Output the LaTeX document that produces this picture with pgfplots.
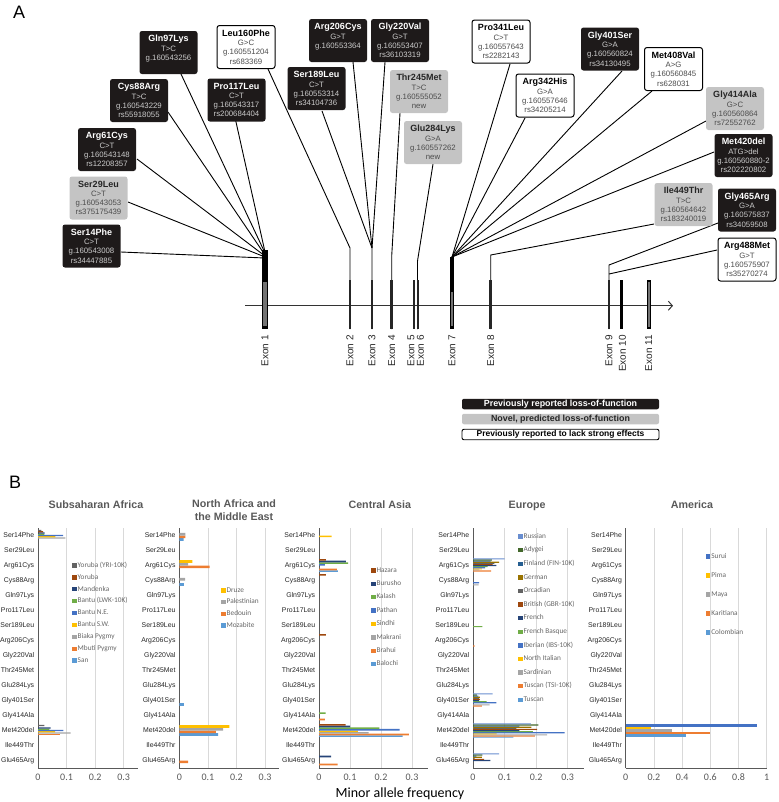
\documentclass[border=0pt]{standalone}
\usepackage{fontspec}
\setmainfont{Liberation Sans}
\newfontfamily\calib{Carlito}
\usepackage{pgfplots}
\pgfplotsset{compat=1.18}
\usetikzlibrary{arrows.meta}

\definecolor{oA}{HTML}{5B9BD5}
\definecolor{oB}{HTML}{ED7D31}
\definecolor{oC}{HTML}{A5A5A5}
\definecolor{oD}{HTML}{FFC000}
\definecolor{oE}{HTML}{4472C4}
\definecolor{oF}{HTML}{70AD47}
\definecolor{oG}{HTML}{264478}
\definecolor{oH}{HTML}{9E480E}
\definecolor{oI}{HTML}{636363}
\definecolor{oJ}{HTML}{997300}
\definecolor{oK}{HTML}{255E91}
\definecolor{oL}{HTML}{43682B}
\definecolor{oM}{HTML}{698ED0}
\definecolor{boxblack}{HTML}{1E1A1A}
\definecolor{boxgrey}{HTML}{C4C4C4}

\tikzset{
  mbox/.style={rounded corners=2.5pt, minimum width=58pt, minimum height=43pt,
    align=center, inner sep=1pt, font=\fontsize{7.8}{9.2}\selectfont},
  lof/.style={mbox, fill=boxblack, text=black!20},
  nov/.style={mbox, fill=boxgrey, text=black!70},
  ben/.style={mbox, fill=white, draw=black, line width=1pt, text=black!70},
}
\newcommand{\lofbox}[3]{\node[lof] at (axis cs:#1) {{\color{white}\fontsize{9}{10.5}\selectfont\bfseries #2}\\#3};}
\newcommand{\novbox}[3]{\node[nov] at (axis cs:#1) {{\color{black!85}\fontsize{9}{10.5}\selectfont\bfseries #2}\\#3};}
\newcommand{\benbox}[3]{\node[ben] at (axis cs:#1) {{\color{black}\fontsize{9}{10.5}\selectfont\bfseries #2}\\#3};}

\pgfplotsset{
  mafax/.style={
    xbar=0pt, scale only axis, height=240pt, anchor=north west,
    xmin=0, ymin=-0.5, ymax=15.5,
    axis x line*=bottom, axis y line*=left,
    axis line style={black!65, line width=0.6pt},
    ytick={0,...,15},
    yticklabels={Glu465Arg,Ile449Thr,Met420del,Gly414Ala,Gly401Ser,Glu284Lys,Thr245Met,Gly220Val,Arg206Cys,Ser189Leu,Pro117Leu,Gln97Lys,Cys88Arg,Arg61Cys,Ser29Leu,Ser14Phe},
    y tick style={draw=none},
    minor ytick={-0.5,0.5,...,15.5},
    minor tick length=3.5pt,
    tick align=center,
    minor y tick style={black!70, line width=0.6pt},
    x tick style={draw=none},
    xmajorgrids, grid style={black!15, line width=0.6pt},
    yticklabel style={font=\fontsize{6.9}{7}\selectfont, text=black!85, inner sep=1.5pt},
    xticklabel style={font=\calib\fontsize{10}{11}\selectfont, text=black!65},
    /pgf/number format/assume math mode=true,
    /pgf/number format/fixed,
    scaled x ticks=false,
    legend style={draw=none, fill=none, inner sep=0pt, anchor=north west,
      font=\calib\fontsize{7.3}{8}\selectfont, text=black!60,
      nodes={inner sep=1pt, text height=5pt, text depth=1.5pt}},
    legend cell align=left,
    reverse legend,
    legend image code/.code={\fill[##1] (0pt,-2.2pt) rectangle (4.5pt,2.2pt);},
    title style={font=\bfseries\fontsize{10.7}{12.5}\selectfont, text=black!65, anchor=base},
  }
}

\begin{document}
\begin{tikzpicture}
% ---------------- panel A ----------------
\begin{axis}[at={(0,0)}, anchor=north west, scale only axis,
  width=778pt, height=802pt, xmin=0, xmax=778, ymin=0, ymax=802,
  y dir=reverse, axis lines=none, xtick=\empty, ytick=\empty, clip=false]

% gene axis
\addplot[black!80, line width=1pt, -{Straight Barb[length=4pt,width=9pt]}] coordinates {(245,305.7) (673,305.7)};

% connectors to exon 1
\addplot[black, line width=0.9pt] coordinates {(121,252) (265,258)};
\addplot[black, line width=0.9pt] coordinates {(128,202) (265,257)};
\addplot[black, line width=0.9pt] coordinates {(137,159) (265,256)};
\addplot[black, line width=0.9pt] coordinates {(168,112) (265,255)};
\addplot[black, line width=0.9pt] coordinates {(181,74) (265,253)};
\addplot[black, line width=0.9pt] coordinates {(234,113) (265,252)};
% exon 2 / 3 / 4 / 6
\addplot[black, line width=0.9pt] coordinates {(268,69) (350,248) (350,329)};
\addplot[black, line width=0.9pt] coordinates {(322,111) (372,248) (372,329)};
\addplot[black, line width=0.9pt] coordinates {(353,62) (372,248)};
\addplot[black, line width=0.9pt] coordinates {(385,62) (372,248)};
\addplot[black, line width=0.9pt] coordinates {(400,113) (391.7,256) (391.7,329)};
\addplot[black, line width=0.9pt] coordinates {(433,164) (417.5,261) (417.5,329)};
% exon 7
\addplot[black, line width=0.9pt] coordinates {(510,64) (452,257)};
\addplot[black, line width=0.9pt] coordinates {(525,118) (452,257)};
\addplot[black, line width=0.9pt] coordinates {(622,71) (452,257)};
\addplot[black, line width=0.9pt] coordinates {(652,91) (452,257)};
\addplot[black, line width=0.9pt] coordinates {(706,121) (452,257)};
\addplot[black, line width=0.9pt] coordinates {(714,152) (452,257)};
% exon 8 / 9
\addplot[black, line width=0.9pt] coordinates {(654,224) (490.7,255) (490.7,329)};
\addplot[black, line width=0.9pt] coordinates {(718,223) (609,265) (609,329)};
\addplot[black, line width=0.9pt] coordinates {(717,250) (609,274)};

% exon bars
\addplot[black, line width=6pt] coordinates {(265,250) (265,329)};
\addplot[black!55, line width=3.4pt] coordinates {(265,282) (265,326)};
\addplot[black!85, line width=2.6pt] coordinates {(350,280) (350,329)};
\addplot[black!85, line width=2.6pt] coordinates {(372,280) (372,329)};
\addplot[black!85, line width=2.6pt] coordinates {(391.7,280) (391.7,329)};
\addplot[black!85, line width=2.2pt] coordinates {(414,280) (414,329)};
\addplot[black!85, line width=2.2pt] coordinates {(417.8,280) (417.8,329)};
\addplot[black, line width=4pt] coordinates {(452,257) (452,329)};
\addplot[black!55, line width=1.8pt] coordinates {(452,292) (452,326)};
\addplot[black!85, line width=2.6pt] coordinates {(490.7,280) (490.7,329)};
\addplot[black!85, line width=2.6pt] coordinates {(609,280) (609,329)};
\addplot[black, line width=2.6pt] coordinates {(621.7,280) (621.7,329)};
\addplot[black, line width=4pt] coordinates {(648.7,280) (648.7,329)};
\addplot[black!55, line width=2pt] coordinates {(648.7,282) (648.7,327)};

% exon labels
\foreach \xx/\lab in {265/Exon 1,350/Exon 2,372/Exon 3,391.7/Exon 4,411/Exon 5,420.5/Exon 6,452/Exon 7,490.7/Exon 8,609/Exon 9,622.5/Exon 10,648.7/Exon 11}{
  \edef\tmp{\noexpand\node[rotate=90, anchor=east, inner sep=0pt, font=\noexpand\fontsize{10}{11}\noexpand\selectfont, text=black!85] at (axis cs:\xx,335) {\lab};}
  \tmp
}

% mutation boxes
\lofbox{168.5,52.5}{Gln97Lys}{T>C\\g.160543256\\~}
\benbox{246,47}{Leu160Phe}{G>C\\g.160551204\\rs683369}
\lofbox{338,40.5}{Arg206Cys}{G>T\\g.160553364\\~}
\lofbox{400,40.5}{Gly220Val}{G>T\\g.160553407\\rs36103319}
\lofbox{139,100.5}{Cys88Arg}{T>C\\g.160543229\\rs55918055}
\lofbox{236.5,100}{Pro117Leu}{C>T\\g.160543317\\rs200684404}
\lofbox{316.5,88.5}{Ser189Leu}{C>T\\g.160553314\\rs34104736}
\novbox{419,91.5}{Thr245Met}{T>C\\g.160555052\\new}
\novbox{433,142.5}{Glu284Lys}{G>A\\g.160557262\\new}
\lofbox{107,149.5}{Arg61Cys}{C>T\\g.160543148\\rs12208357}
\novbox{98.5,198}{Ser29Leu}{C>T\\g.160543053\\rs375175439}
\lofbox{91.5,246}{Ser14Phe}{C>T\\g.160543008\\rs34447885}
\benbox{501,41.5}{Pro341Leu}{C>T\\g.160557643\\rs2282143}
\benbox{545,95.5}{Arg342His}{G>A\\g.160557646\\rs34205214}
\lofbox{610,49}{Gly401Ser}{G>A\\g.160560824\\rs34130495}
\benbox{673.5,69}{Met408Val}{A>G\\g.160560845\\rs628031}
\novbox{735,108.5}{Gly414Ala}{G>C\\g.160560864\\rs72552762}
\lofbox{743.5,155.5}{Met420del}{ATG>del\\g.160560880-2\\rs202220802}
\novbox{683.5,204.5}{Ile449Thr}{T>C\\g.160564642\\rs183240019}
\lofbox{747,210}{Gly465Arg}{G>A\\g.160575837\\rs34059508}
\benbox{747,259.5}{Arg488Met}{G>T\\g.160575907\\rs35270274}

% legend of panel A
\node[fill=boxblack, rounded corners=2pt, minimum width=197pt, minimum height=10.5pt, inner sep=0pt,
  text=white, font=\bfseries\fontsize{8.9}{9}\selectfont] at (axis cs:560.5,404) {Previously reported loss-of-function};
\node[fill=boxgrey, rounded corners=2pt, minimum width=197pt, minimum height=10.5pt, inner sep=0pt,
  text=black!85, font=\bfseries\fontsize{8.9}{9}\selectfont] at (axis cs:560.5,419) {Novel, predicted loss-of-function};
\node[fill=white, draw=black, line width=0.9pt, rounded corners=2pt, minimum width=197pt, minimum height=10.5pt, inner sep=0pt,
  text=black, font=\bfseries\fontsize{8.5}{9}\selectfont] at (axis cs:560.5,434.5) {Previously reported to lack strong effects};

% panel letters and shared x label
\node[font=\fontsize{18}{20}\selectfont, anchor=base west, inner sep=0pt] at (axis cs:13,18) {A};
\node[font=\fontsize{18}{20}\selectfont, anchor=base west, inner sep=0pt] at (axis cs:9,488) {B};
\node[font=\calib\fontsize{14}{16}\selectfont, anchor=base, inner sep=0pt] at (axis cs:400,797) {Minor allele frequency};
\end{axis}

% ---------------- panel B ----------------
\begin{axis}[mafax, at={(38pt,-528pt)}, width=100pt, xmax=0.35, xtick={0,0.1,0.2,0.3},
  bar width=1.25pt,
  title={Subsaharan Africa}, title style={at={(axis description cs:0.58,1)}, yshift=14pt},
  legend style={at={(axis description cs:0.34,0.8625)}, row sep=3.4pt}]
\addplot[fill=oA, draw=none] coordinates {(0,2)};
\addplot[fill=oB, draw=none] coordinates {(0.076,2)};
\addplot[fill=oC, draw=none] coordinates {(0.096,15) (0.114,2)};
\addplot[fill=oD, draw=none] coordinates {(0.061,15) (0.060,2)};
\addplot[fill=oE, draw=none] coordinates {(0.088,15) (0.089,2)};
\addplot[fill=oF, draw=none] coordinates {(0.022,15) (0.040,2)};
\addplot[fill=oG, draw=none] coordinates {(0.023,15) (0.044,2)};
\addplot[fill=oH, draw=none] coordinates {(0.018,15) (0,2)};
\addplot[fill=oI, draw=none] coordinates {(0.012,15) (0.022,2)};
\legend{San,Mbuti Pygmy,Biaka Pygmy,Bantu S.W.,Bantu N.E.,Bantu (LWK-10K),Mandenka,Yoruba,Yoruba (YRI-10K)}
\end{axis}

\begin{axis}[mafax, at={(179.3pt,-528pt)}, width=100pt, xmax=0.35, xtick={0,0.1,0.2,0.3},
  bar width=2.7pt,
  title={North Africa and\\the Middle East},
  title style={at={(axis description cs:0.547,1)}, align=center, anchor=south, yshift=-2pt},
  legend style={at={(axis description cs:0.417,0.758)}, row sep=3.2pt}]
\addplot[fill=oA, draw=none] coordinates {(0.015,15) (0.016,12) (0.016,4) (0.136,2)};
\addplot[fill=oB, draw=none] coordinates {(0.021,15) (0.106,13) (0.128,2) (0.031,0)};
\addplot[fill=oC, draw=none] coordinates {(0.021,15) (0.031,13) (0.020,12) (0.153,2)};
\addplot[fill=oD, draw=none] coordinates {(0.046,13) (0.175,2)};
\legend{Mozabite,Bedouin,Palestinian,Druze}
\end{axis}

\begin{axis}[mafax, at={(319pt,-528pt)}, width=108.5pt, xmax=0.35, xtick={0,0.1,0.2,0.3},
  bar width=1.6pt,
  title={Central Asia}, title style={at={(axis description cs:0.56,1)}, yshift=14pt},
  legend style={at={(axis description cs:0.478,0.842)}, row sep=4.9pt}]
\addplot[fill=oA, draw=none] coordinates {(0.061,13) (0.270,2)};
\addplot[fill=oB, draw=none] coordinates {(0.058,13) (0.019,3) (0.290,2) (0.060,0)};
\addplot[fill=oC, draw=none] coordinates {(0,13) (0.160,2)};
\addplot[fill=oD, draw=none] coordinates {(0.041,15) (0.125,2)};
\addplot[fill=oE, draw=none] coordinates {(0.019,13) (0.260,2)};
\addplot[fill=oF, draw=none] coordinates {(0.094,13) (0.021,3) (0.195,2)};
\addplot[fill=oG, draw=none] coordinates {(0.087,13) (0.100,2) (0.039,0)};
\addplot[fill=oH, draw=none] coordinates {(0.022,13) (0.022,12) (0.022,8) (0.086,2)};
\legend{Balochi,Brahui,Makrani,Sindhi,Pathan,Kalash,Burusho,Hazara}
\end{axis}

\begin{axis}[mafax, at={(473pt,-528pt)}, width=110.5pt, xmax=0.35, xtick={0,0.1,0.2,0.3},
  bar width=1.1pt,
  title={Europe}, title style={at={(axis description cs:0.49,1)}, yshift=14pt},
  legend style={at={(axis description cs:0.406,0.983)}, row sep=5.1pt}]
\addplot[fill=oA, draw=none] coordinates {(0,13) (0.128,2)};
\addplot[fill=oB, draw=none] coordinates {(0.057,13) (0.005,8) (0.028,4) (0.196,2)};
\addplot[fill=oC, draw=none] coordinates {(0.020,13) (0.018,12) (0.053,4) (0.235,2)};
\addplot[fill=oD, draw=none] coordinates {(0.028,13) (0.075,2)};
\addplot[fill=oE, draw=none] coordinates {(0.038,13) (0.019,12) (0.074,4) (0.290,2)};
\addplot[fill=oF, draw=none] coordinates {(0.046,13) (0.030,9) (0.043,4) (0.190,2)};
\addplot[fill=oG, draw=none] coordinates {(0.074,13) (0.019,4) (0.147,2) (0.055,0)};
\addplot[fill=oH, draw=none] coordinates {(0.062,13) (0.022,4) (0.203,2) (0.035,0)};
\addplot[fill=oI, draw=none] coordinates {(0.068,13) (0.019,4) (0.137,2) (0.005,0)};
\addplot[fill=oJ, draw=none] coordinates {(0.083,13) (0.022,4) (0.185,2) (0.028,0)};
\addplot[fill=oK, draw=none] coordinates {(0.056,13) (0.017,4) (0.147,2) (0.011,0)};
\addplot[fill=oL, draw=none] coordinates {(0.060,13) (0.012,4) (0.207,2) (0.030,0)};
\addplot[fill=oM, draw=none] coordinates {(0.100,13) (0.062,4) (0.183,2) (0.083,0)};
\legend{Tuscan,Tuscan (TSI-10K),Sardinian,North Italian,Iberian (IBS-10K),French Basque,French,British (GBR-10K),Orcadian,German,Finland (FIN-10K),Adygei,Russian}
\end{axis}

\begin{axis}[mafax, at={(625.7pt,-528pt)}, width=141pt, xmax=1, xtick={0,0.2,0.4,0.6,0.8,1},
  bar width=2.5pt,
  title={America}, title style={at={(axis description cs:0.47,1)}, yshift=14pt},
  legend style={at={(axis description cs:0.567,0.9)}, row sep=10.5pt}]
\addplot[fill=oA, draw=none] coordinates {(0.425,2)};
\addplot[fill=oB, draw=none] coordinates {(0.600,2)};
\addplot[fill=oC, draw=none] coordinates {(0.330,2)};
\addplot[fill=oD, draw=none] coordinates {(0.178,2)};
\addplot[fill=oE, draw=none] coordinates {(0.930,2)};
\legend{Colombian,Karitiana,Maya,Pima,Surui}
\end{axis}

\pgfresetboundingbox
\path[use as bounding box] (0,0) rectangle (778pt,-802pt);
\end{tikzpicture}
\end{document}
